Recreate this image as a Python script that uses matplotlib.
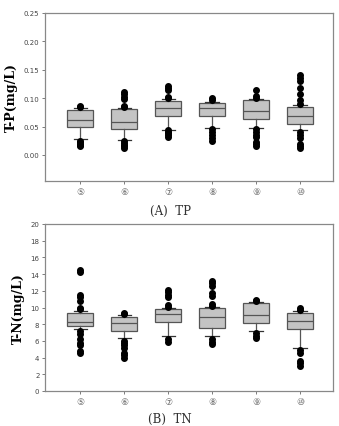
import matplotlib
matplotlib.use("Agg")
import matplotlib.pyplot as plt

sites = ["⑤", "⑥", "⑦", "⑧", "⑨", "⑩"]

# TP statistics (mg/L)
tp_q1 = [0.049, 0.045, 0.069, 0.068, 0.064, 0.055]
tp_med = [0.062, 0.058, 0.083, 0.083, 0.077, 0.069]
tp_q3 = [0.079, 0.081, 0.095, 0.092, 0.097, 0.085]
tp_wlo = [0.028, 0.026, 0.044, 0.047, 0.048, 0.043]
tp_whi = [0.082, 0.083, 0.098, 0.094, 0.099, 0.088]
tp_fliers = [
    [0.085, 0.087, 0.015, 0.018, 0.020, 0.022, 0.025],
    [0.085, 0.087, 0.098, 0.102, 0.107, 0.110, 0.012, 0.015, 0.018, 0.021, 0.024],
    [0.100, 0.102, 0.115, 0.118, 0.121, 0.032, 0.035, 0.038, 0.041, 0.043],
    [0.096, 0.100, 0.024, 0.030, 0.035, 0.040, 0.045],
    [0.101, 0.104, 0.115, 0.015, 0.020, 0.023, 0.032, 0.035, 0.040, 0.045],
    [0.090, 0.097, 0.107, 0.117, 0.130, 0.135, 0.140, 0.012, 0.016, 0.020, 0.030, 0.035, 0.040],
]

# TN statistics (mg/L)
tn_q1 = [7.73, 7.17, 8.25, 7.53, 8.10, 7.37]
tn_med = [8.25, 8.13, 9.20, 8.90, 9.05, 8.35]
tn_q3 = [9.40, 8.90, 9.80, 9.96, 10.50, 9.40]
tn_wlo = [7.45, 6.30, 6.60, 6.60, 7.15, 5.20]
tn_whi = [9.56, 9.05, 9.95, 10.05, 10.60, 9.55]
tn_fliers = [
    [14.5, 14.2, 11.5, 11.2, 10.8, 10.0, 9.8, 7.2, 6.8, 6.2, 5.8, 5.5, 4.8, 4.5],
    [9.2, 9.4, 6.0, 5.8, 5.5, 5.2, 4.6, 4.3, 3.9],
    [10.1, 10.3, 11.2, 11.5, 11.8, 12.1, 6.2, 5.9],
    [10.2, 10.4, 11.4, 11.7, 12.6, 12.9, 13.2, 6.2, 5.9, 5.6],
    [10.8, 10.95, 6.9, 6.6, 6.3],
    [9.7, 9.95, 4.9, 4.6, 3.6, 3.3, 3.0],
]


def make_stats(q1, med, q3, wlo, whi, fl):
    return [dict(q1=a, med=b, q3=c, whislo=d, whishi=e, fliers=f)
            for a, b, c, d, e, f in zip(q1, med, q3, wlo, whi, fl)]


fig = plt.figure(figsize=(3.39, 4.27), dpi=100)
W, H = 339, 427
ax1 = fig.add_axes([45 / W, 1 - 182 / H, 288 / W, 168 / H])
ax2 = fig.add_axes([45 / W, 1 - 392 / H, 288 / W, 167 / H])

tick_font = ["DejaVu Sans", "Noto Sans CJK KR"]


def draw(ax, stats, ylim, yticks, fmt, ylabel):
    ax.bxp(stats, positions=range(1, 7), widths=0.6, patch_artist=True,
           boxprops=dict(facecolor="#c4c4c4", edgecolor="#555555", linewidth=0.9),
           medianprops=dict(color="#555555", linewidth=0.9),
           whiskerprops=dict(color="#555555", linewidth=0.9),
           capprops=dict(color="#333333", linewidth=0.9),
           capwidths=0.3,
           flierprops=dict(marker="o", markerfacecolor="black", markeredgecolor="black",
                           markersize=4))
    ax.set_xlim(0.2, 6.75)
    ax.set_ylim(*ylim)
    ax.set_yticks(yticks)
    ax.set_yticklabels([fmt(v) for v in yticks], fontsize=5, color="#444444")
    ax.set_xticks(range(1, 7))
    ax.set_xticklabels(sites, fontsize=6.5, color="#666666", family=tick_font)
    for s in ax.spines.values():
        s.set_color("#888888")
        s.set_linewidth(0.9)
    ax.tick_params(axis="both", length=2, width=0.6, color="#666666", pad=2)
    ax.set_ylabel(ylabel, fontsize=9, fontweight="bold", family="DejaVu Serif", labelpad=4)


draw(ax1, make_stats(tp_q1, tp_med, tp_q3, tp_wlo, tp_whi, tp_fliers),
     (-0.046, 0.25), [0.0, 0.05, 0.10, 0.15, 0.20, 0.25], lambda v: f"{v:.2f}", "T-P(mg/L)")
draw(ax2, make_stats(tn_q1, tn_med, tn_q3, tn_wlo, tn_whi, tn_fliers),
     (0, 20), list(range(0, 21, 2)), lambda v: f"{v}", "T-N(mg/L)")

fig.text(170 / W, 1 - 211 / H, "(A)  TP", ha="center", va="center", fontsize=8.5,
         family="DejaVu Serif", color="#333333")
fig.text(170 / W, 1 - 419 / H, "(B)  TN", ha="center", va="center", fontsize=8.5,
         family="DejaVu Serif", color="#333333")

fig.savefig("out.png", dpi=100)
